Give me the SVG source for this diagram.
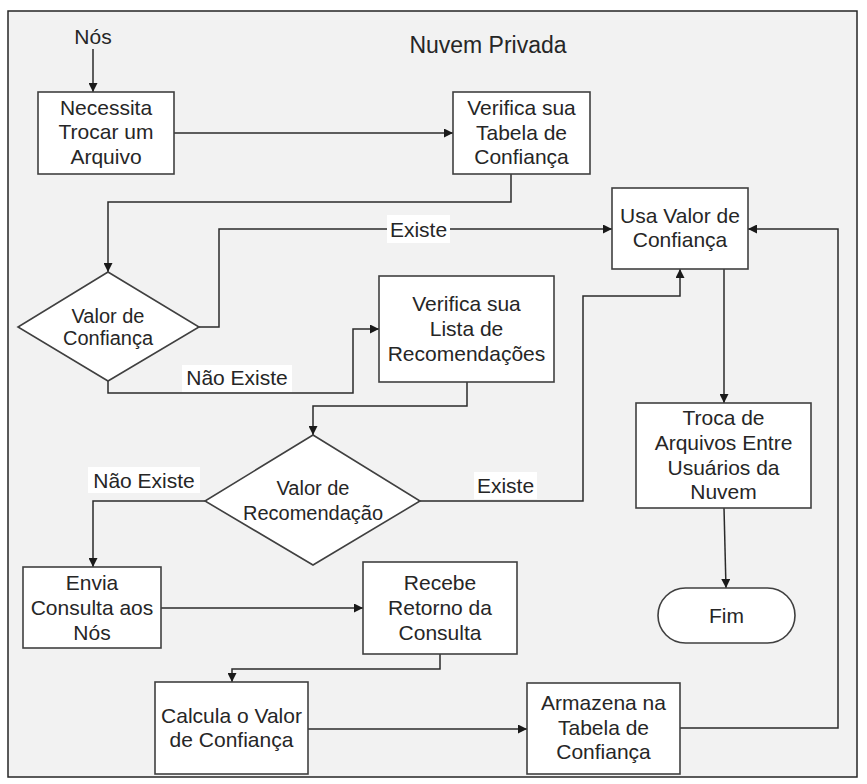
<svg xmlns="http://www.w3.org/2000/svg" width="867" height="784" viewBox="0 0 867 784">
  <style>
    .frame { fill: #f2f2f2; stroke: #262626; stroke-width: 1.5; }
    .box { fill: #ffffff; stroke: #404040; stroke-width: 1.6; }
    .wire { fill: none; stroke: #2b2b2b; stroke-width: 1.5; }
    .lblbg { fill: #ffffff; stroke: none; }
    text { font-family: "Liberation Sans", Arial, sans-serif; fill: #262626; text-anchor: middle; }
    .t { font-size: 21px; }
    .d { font-size: 20px; }
    .title { font-size: 23px; }
  </style>
  <defs>
    <marker id="arrow" viewBox="0 0 10 10" refX="10" refY="5" markerWidth="9" markerHeight="9" markerUnits="userSpaceOnUse" orient="auto">
      <path d="M0,0 L10,5 L0,10 Z" fill="#1a1a1a"/>
    </marker>
  </defs>

  <!-- private cloud frame -->
  <rect class="frame" x="8" y="11" width="849" height="766"/>
  <text class="title" x="488" y="53">Nuvem Privada</text>

  <!-- connectors -->
  <g id="connectors">
    <path class="wire" d="M93,49 L93,92" marker-end="url(#arrow)"/>
    <path class="wire" d="M174,133 L453,133" marker-end="url(#arrow)"/>
    <path class="wire" d="M511,174 L511,202 L108,202 L108,272" marker-end="url(#arrow)"/>
    <path class="wire" d="M199,327 L219,327 L219,229 L612,229" marker-end="url(#arrow)"/>
    <path class="wire" d="M108,381 L108,393 L353,393 L353,329 L379,329" marker-end="url(#arrow)"/>
    <path class="wire" d="M467,382 L467,406 L313,406 L313,435" marker-end="url(#arrow)"/>
    <path class="wire" d="M420,501 L583,501 L583,296 L680,296 L680,269" marker-end="url(#arrow)"/>
    <path class="wire" d="M205,501 L93,501 L93,567" marker-end="url(#arrow)"/>
    <path class="wire" d="M161,608 L363,608" marker-end="url(#arrow)"/>
    <path class="wire" d="M440,654 L440,669 L232,669 L232,682" marker-end="url(#arrow)"/>
    <path class="wire" d="M308,729 L527,729" marker-end="url(#arrow)"/>
    <path class="wire" d="M680,728 L838,728 L838,229 L748,229" marker-end="url(#arrow)"/>
    <path class="wire" d="M724,269 L724,403" marker-end="url(#arrow)"/>
    <path class="wire" d="M724,508 L726,588" marker-end="url(#arrow)"/>

    <!-- branch labels -->
    <rect class="lblbg" x="387" y="215" width="63" height="28"/>
    <text class="t" x="418.5" y="236.5">Existe</text>
    <rect class="lblbg" x="182" y="365" width="110" height="27"/>
    <text class="t" x="237" y="385">Não Existe</text>
    <rect class="lblbg" x="88" y="467" width="112" height="26"/>
    <text class="t" x="144" y="487.5">Não Existe</text>
    <rect class="lblbg" x="474" y="472" width="63" height="27"/>
    <text class="t" x="505.5" y="493">Existe</text>
  </g>

  <!-- entry label -->
  <g id="n-nos">
    <text class="t" x="93" y="43.5">Nós</text>
  </g>

  <g id="n-necessita">
    <rect class="box" x="38" y="92" width="136" height="82"/>
    <text class="t" x="106" y="114.5">Necessita</text>
    <text class="t" x="106" y="139">Trocar um</text>
    <text class="t" x="106" y="163.5">Arquivo</text>
  </g>

  <g id="n-tabela">
    <rect class="box" x="453" y="92" width="137" height="82"/>
    <text class="t" x="521.5" y="115">Verifica sua</text>
    <text class="t" x="521.5" y="139.5">Tabela de</text>
    <text class="t" x="521.5" y="164">Confiança</text>
  </g>

  <g id="n-valor-confianca">
    <path class="box" d="M108,272 L199,327 L108,381 L18,327 Z"/>
    <text class="d" x="108" y="323">Valor de</text>
    <text class="d" x="108" y="345">Confiança</text>
  </g>

  <g id="n-usa-valor">
    <rect class="box" x="612" y="188" width="136" height="81"/>
    <text class="t" x="680" y="223">Usa Valor de</text>
    <text class="t" x="680" y="247">Confiança</text>
  </g>

  <g id="n-lista">
    <rect class="box" x="379" y="276" width="175" height="106"/>
    <text class="t" x="466.5" y="311">Verifica sua</text>
    <text class="t" x="466.5" y="336">Lista de</text>
    <text class="t" x="466.5" y="361">Recomendações</text>
  </g>

  <g id="n-valor-recomendacao">
    <path class="box" d="M313,435 L420,501 L313,565 L205,501 Z"/>
    <text class="d" x="313" y="494.5">Valor de</text>
    <text class="d" x="313" y="519.5">Recomendação</text>
  </g>

  <g id="n-troca">
    <rect class="box" x="636" y="403" width="175" height="105"/>
    <text class="t" x="723.5" y="425">Troca de</text>
    <text class="t" x="723.5" y="450">Arquivos Entre</text>
    <text class="t" x="723.5" y="474.5">Usuários da</text>
    <text class="t" x="723.5" y="499">Nuvem</text>
  </g>

  <g id="n-fim">
    <rect class="box" x="658" y="588" width="137" height="55" rx="27.5" ry="27.5"/>
    <text class="t" x="726.5" y="623">Fim</text>
  </g>

  <g id="n-envia">
    <rect class="box" x="23" y="567" width="138" height="81"/>
    <text class="t" x="92" y="589.5">Envia</text>
    <text class="t" x="92" y="615">Consulta aos</text>
    <text class="t" x="92" y="639.5">Nós</text>
  </g>

  <g id="n-recebe">
    <rect class="box" x="363" y="562" width="154" height="92"/>
    <text class="t" x="440" y="589.5">Recebe</text>
    <text class="t" x="440" y="615">Retorno da</text>
    <text class="t" x="440" y="640">Consulta</text>
  </g>

  <g id="n-calcula">
    <rect class="box" x="155" y="682" width="153" height="92"/>
    <text class="t" x="231.5" y="722.5">Calcula o Valor</text>
    <text class="t" x="231.5" y="747">de Confiança</text>
  </g>

  <g id="n-armazena">
    <rect class="box" x="527" y="683" width="153" height="91"/>
    <text class="t" x="603.5" y="709.5">Armazena na</text>
    <text class="t" x="603.5" y="734.5">Tabela de</text>
    <text class="t" x="603.5" y="759">Confiança</text>
  </g>
</svg>
